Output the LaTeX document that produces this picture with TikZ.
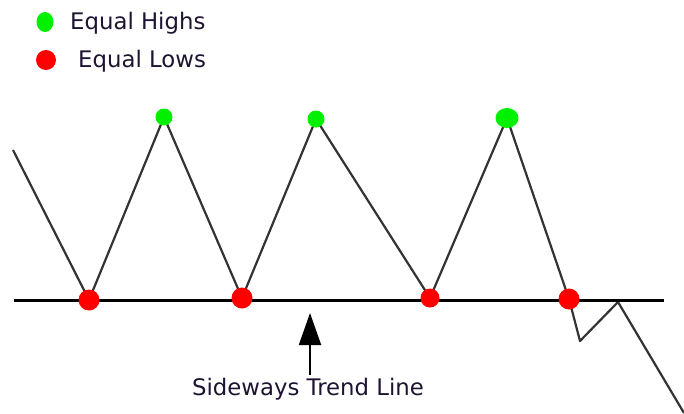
\documentclass[tikz,border=0pt]{standalone}
\usepackage{fontspec}
\setmainfont{DejaVu Sans}
\usetikzlibrary{arrows.meta,shapes.geometric}
\definecolor{hi}{RGB}{0,240,0}
\definecolor{lo}{RGB}{255,0,0}
\definecolor{txt}{RGB}{30,20,50}
\tikzset{
  zig/.style={draw=black!80, line width=2.2pt},
  base/.style={draw=black, line width=3pt},
  highdot/.style={circle, fill=hi, inner sep=0pt, minimum size=17pt},
  lowdot/.style={circle, fill=lo, inner sep=0pt, minimum size=21pt},
  lbl/.style={font=\fontsize{22.8}{26}\selectfont, text=txt, inner sep=0pt, anchor=west},
}
\begin{document}
\begin{tikzpicture}[x=1pt,y=-1pt]
\useasboundingbox (0,0) rectangle (684,413);
% points
\coordinate (s) at (13,150);
\coordinate (l1) at (89,300);
\coordinate (h1) at (164,117);
\coordinate (l2) at (242,298);
\coordinate (h2) at (316,119);
\coordinate (l3) at (430,298);
\coordinate (h3) at (507,118);
\coordinate (l4) at (569,299);
\coordinate (v1) at (580,341);
\coordinate (v2) at (618,302);
\coordinate (e) at (684,413);
\coordinate (b0) at (14,300);
\coordinate (b1) at (664,300);
% zigzag
\draw[zig, line join=round] (s) -- (l1) -- (h1) -- (l2) -- (h2) -- (l3) -- (h3) -- (l4) -- (v1) -- (v2) -- (e);
% base line
\draw[base] (b0) -- (b1);
% dots
\node[highdot] (dh1) at (h1) {};
\node[highdot] (dh2) at (h2) {};
\node[highdot, ellipse, minimum width=23pt, minimum height=20pt] (dh3) at (h3) {};
\node[lowdot] (dl1) at (l1) {};
\node[lowdot] (dl2) at (l2) {};
\node[lowdot, minimum size=19pt] (dl3) at (l3) {};
\node[lowdot] (dl4) at (l4) {};
% legend
\node[highdot, ellipse, minimum width=17pt, minimum height=20pt] (lg1) at (45,22) {};
\node[lbl] (lt1) at (70,23.5) {Equal Highs};
\node[lowdot, minimum size=20pt] (lg2) at (46,60) {};
\node[lbl] (lt2) at (78,61.5) {Equal Lows};
% arrow and label
\node[lbl, anchor=center] (tl) at (308,389) {Sideways Trend Line};
\coordinate (tip) at (310,313);
\draw[line width=2pt, -{Triangle[width=22pt,length=32pt]}] (tl.north -| tip) ++(0,-3) -- (tip);
\end{tikzpicture}
\end{document}
